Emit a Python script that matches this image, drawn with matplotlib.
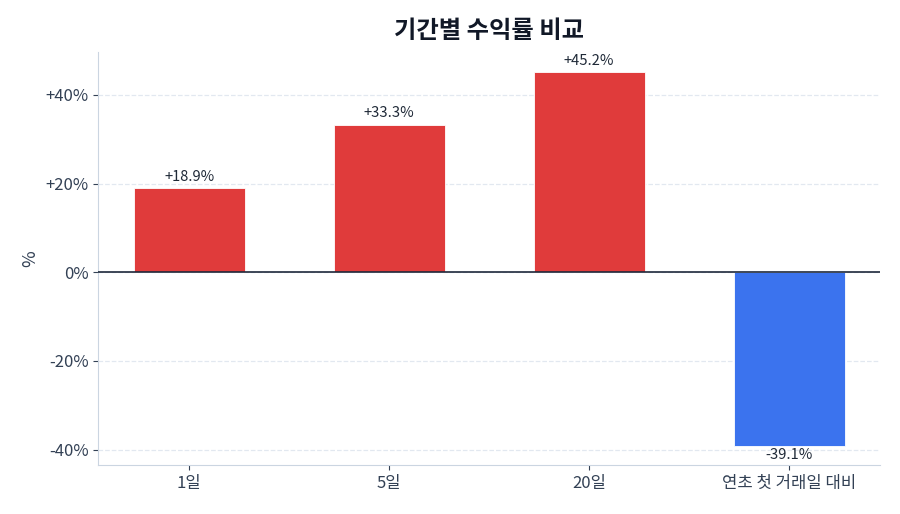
import matplotlib
matplotlib.use("Agg")
import matplotlib.pyplot as plt
from matplotlib.ticker import FuncFormatter

plt.rcParams['font.family'] = ['Noto Sans CJK KR', 'DejaVu Sans']

# ── DATA ──────────────────────────────────────────────────────────────
periods = ['1일', '5일', '20일', '연초 첫 거래일 대비']
returns = [18.9, 33.3, 45.2, -39.1]

RED = '#e03b3b'
BLUE = '#3b73ee'
TEXT = '#334155'

colors = [RED if v >= 0 else BLUE for v in returns]

fig, ax = plt.subplots(figsize=(9, 5.14), dpi=100)
fig.subplots_adjust(left=0.109, right=0.978, top=0.899, bottom=0.095)

x = range(len(periods))
bars = ax.bar(x, returns, width=0.555, color=colors, edgecolor='white',
              linewidth=0.6, zorder=3)

for b, v in zip(bars, returns):
    cx = b.get_x() + b.get_width() / 2
    if v >= 0:
        ax.annotate(f'+{v:.1f}%', (cx, v), xytext=(0, 3), textcoords='offset points',
                    ha='center', va='bottom', fontsize=10.6, color='#1f2937')
    else:
        ax.annotate(f'{v:.1f}%', (cx, v), xytext=(0, -2), textcoords='offset points',
                    ha='center', va='top', fontsize=10.6, color='#1f2937')

ax.axhline(0, color='#1e293b', linewidth=1.2, zorder=4)
ax.set_ylim(-43.5, 49.7)
ax.set_yticks([-40, -20, 0, 20, 40])
ax.yaxis.set_major_formatter(FuncFormatter(lambda v, p: f'+{v:.0f}%' if v > 0 else f'{v:.0f}%'))
ax.set_xticks(list(x))
ax.set_xticklabels(periods)

ax.grid(axis='y', linestyle='--', color='#e2e8f0', linewidth=0.9, zorder=0)
ax.set_axisbelow(True)
for s in ['top', 'right']:
    ax.spines[s].set_visible(False)
for s in ['left', 'bottom']:
    ax.spines[s].set_color('#cbd5e1')
ax.tick_params(colors=TEXT, labelsize=12)
ax.tick_params(axis='both', color='#334155')

ax.set_ylabel('%', color=TEXT, fontsize=13)
ax.set_title('기간별 수익률 비교', fontsize=17.5, fontweight='bold', color='#111827', pad=10)

plt.savefig('out.png', dpi=100)
